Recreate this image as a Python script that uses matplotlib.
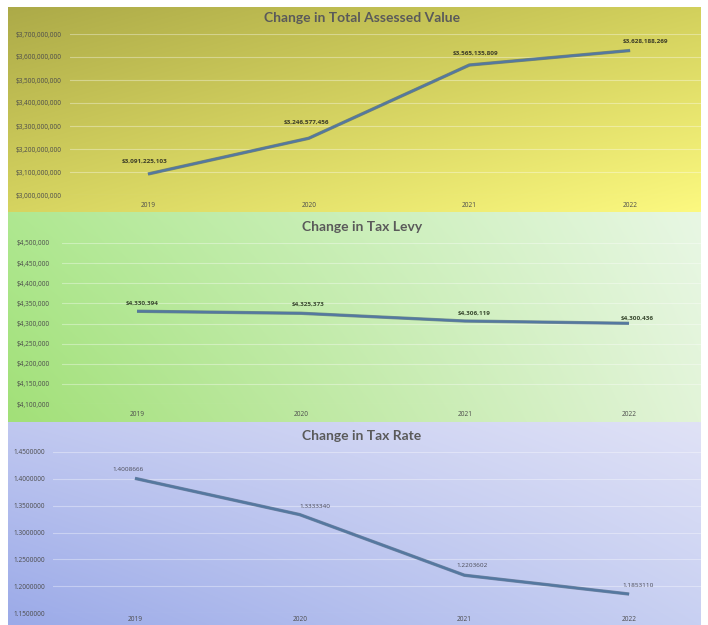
import numpy as np
import matplotlib
matplotlib.use("Agg")
import matplotlib.pyplot as plt
from matplotlib.ticker import FuncFormatter

plt.rcParams['font.family'] = ['Lato', 'DejaVu Sans']
SMALL_FONT = ['Open Sans', 'DejaVu Sans']

years = ["2019", "2020", "2021", "2022"]
assessed_value = [3091225103, 3246577456, 3565135809, 3628188269]
tax_levy = [4330394, 4325373, 4306119, 4300436]
tax_rate = [1.4008666, 1.3333340, 1.2203602, 1.1853110]

titles = ["Change in Total Assessed Value", "Change in Tax Levy", "Change in Tax Rate"]

W, H = 708, 625
fig = plt.figure(figsize=(W / 100, H / 100), dpi=100)
fig.patch.set_facecolor("white")


def rect(x0, y0, x1, y1):
    return [x0 / W, 1 - y1 / H, (x1 - x0) / W, (y1 - y0) / H]


def gradient(tl, tr, bl, br, n=200):
    tl, tr, bl, br = [np.array(c, float) / 255 for c in (tl, tr, bl, br)]
    u = np.linspace(0, 1, n)[None, :, None]
    v = np.linspace(0, 1, n)[:, None, None]
    top = tl * (1 - u) + tr * u
    bot = bl * (1 - u) + br * u
    return top * (1 - v) + bot * v


panels = [
    dict(prect=(8, 7, 701, 212), arect=(70, 34, 701, 195),
         grad=((172, 170, 72), (210, 208, 92), (214, 212, 96), (252, 249, 128)),
         values=assessed_value, ylim=(3.0e9, 3.7e9), yticks=np.arange(3.0e9, 3.71e9, 1e8),
         fmt=lambda v, p: "${:,.0f}".format(v), dfmt=lambda v: "${:,.0f}".format(v),
         p0=148, step=160.7, title_y=18, ypad=8, xpad=5,
         offs=[(-3, 13), (-2, 16), (6, 12), (15, 9)], dcolor="#3d3d28", dweight="bold"),
    dict(prect=(8, 212, 701, 422), arect=(62, 243, 701, 404),
         grad=((175, 232, 145), (232, 247, 228), (162, 224, 120), (226, 244, 216)),
         values=tax_levy, ylim=(4.1e6, 4.5e6), yticks=np.arange(4.1e6, 4.51e6, 5e4),
         fmt=lambda v, p: "${:,.0f}".format(v), dfmt=lambda v: "${:,.0f}".format(v),
         p0=137, step=164.0, title_y=227, ypad=12, xpad=5,
         offs=[(5, 8), (7, 9), (9, 8), (8, 5)], dcolor="#3a4a30", dweight="bold"),
    dict(prect=(8, 422, 701, 625), arect=(53, 452, 701, 613),
         grad=((192, 200, 240), (224, 226, 246), (155, 170, 232), (200, 208, 242)),
         values=tax_rate, ylim=(1.15, 1.45), yticks=np.arange(1.15, 1.451, 0.05),
         fmt=lambda v, p: "{:.7f}".format(v), dfmt=lambda v: "{:.7f}".format(v),
         p0=135, step=164.7, title_y=436, ypad=8, xpad=2.5,
         offs=[(-7, 9), (15, 8), (8, 10), (9, 9)], dcolor="#4a4a55", dweight="normal"),
]

for pdef, title in zip(panels, titles):
    x0, y0, x1, y1 = pdef["prect"]
    bg = fig.add_axes(rect(x0, y0, x1, y1), zorder=0)
    bg.imshow(gradient(*pdef["grad"]), aspect="auto", extent=[0, 1, 0, 1], interpolation="bilinear")
    bg.set_axis_off()

    ax0, ay0, ax1, ay1 = pdef["arect"]
    ax = fig.add_axes(rect(ax0, ay0, ax1, ay1), zorder=1)
    ax.set_facecolor("none")
    for s in ax.spines.values():
        s.set_visible(False)
    p0, step = pdef["p0"], pdef["step"]
    ax.set_xlim((ax0 - p0) / step, (ax1 - p0) / step)
    ax.set_ylim(*pdef["ylim"])
    ax.set_yticks(pdef["yticks"])
    ax.yaxis.set_major_formatter(FuncFormatter(pdef["fmt"]))
    ax.set_xticks(range(len(years)))
    ax.set_xticklabels(years)
    ax.tick_params(axis="y", length=0, pad=pdef["ypad"] * 0.72, labelsize=4.7, labelcolor="#4c4c4c")
    ax.tick_params(axis="x", length=0, pad=pdef["xpad"], labelsize=4.7, labelcolor="#4c4c4c")
    for lab in ax.get_xticklabels() + ax.get_yticklabels():
        lab.set_family(SMALL_FONT)
    ax.grid(axis="y", color="white", alpha=0.35, lw=0.8)
    ax.set_axisbelow(True)

    xs = np.arange(len(years))
    ax.plot(xs, pdef["values"], color="#3b5670", lw=2.4, solid_capstyle="butt", zorder=3, alpha=0.6)
    ax.plot(xs, pdef["values"], color="#5478a0", lw=1.6, solid_capstyle="butt", zorder=4)
    for x, v, (dx, dy) in zip(xs, pdef["values"], pdef["offs"]):
        ax.annotate(pdef["dfmt"](v), (x, v), xytext=(dx, dy), textcoords="offset pixels",
                    ha="center", va="center", fontsize=4.6, color=pdef["dcolor"],
                    family=SMALL_FONT, fontweight=pdef["dweight"],
                    annotation_clip=False, zorder=5)

    fig.text(362 / W, 1 - pdef["title_y"] / H, title, ha="center", va="center",
             fontsize=10, fontweight="bold", color="#5a5a5a", zorder=6)

fig.savefig("out.png", dpi=100, facecolor="white")
